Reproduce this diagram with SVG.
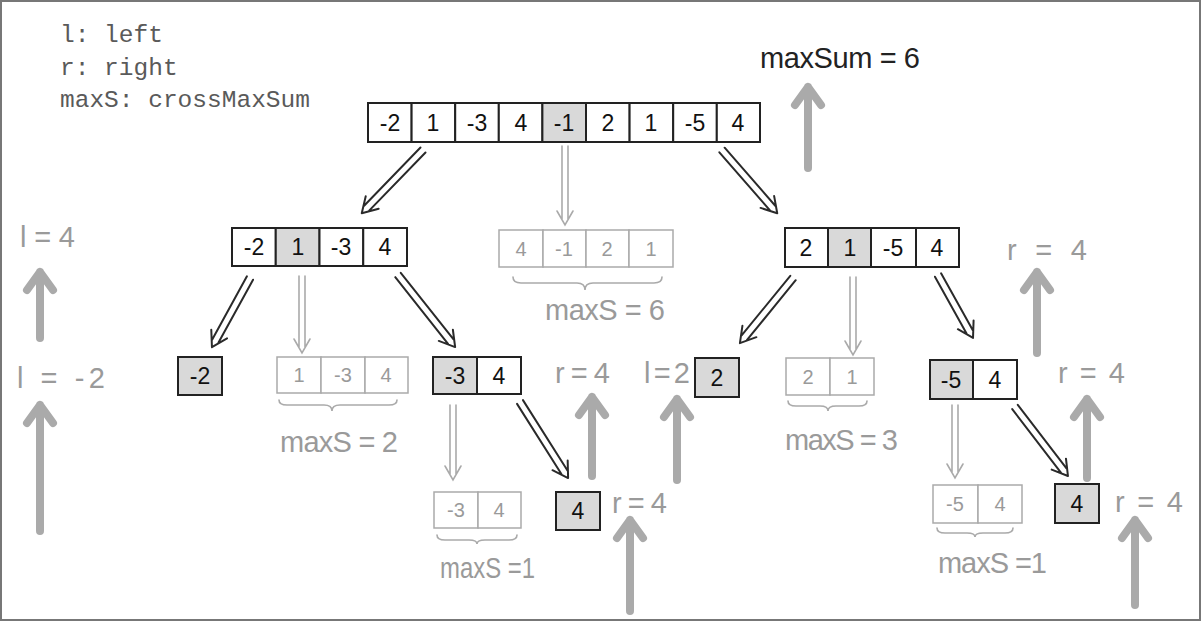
<svg xmlns="http://www.w3.org/2000/svg" width="1203" height="623" viewBox="0 0 1203 623">
<style>
.cell{fill:#fff;stroke:#222;stroke-width:2}
.sh{fill:#d9d9d9}
.gcell{fill:#fff;stroke:#aaa;stroke-width:1.5}
.num{font-family:"Liberation Sans",Arial,sans-serif;font-size:23px;fill:#111;text-anchor:middle}
.gnum{font-family:"Liberation Sans",Arial,sans-serif;font-size:20px;fill:#9a9a9a;text-anchor:middle}
.hand{font-family:"Liberation Sans",Arial,sans-serif;font-size:29px;fill:#9a9a9a}
.dark{fill:#222}
.legend{font-family:"Liberation Mono","Courier New",monospace;font-size:24.5px;fill:#5a5a5a}
.barrow{fill:none;stroke:#2a2a2a;stroke-width:2;stroke-linecap:round;stroke-linejoin:round}
.garrow{fill:none;stroke:#aaa;stroke-width:1.6;stroke-linecap:round}
.up{fill:none;stroke:#aaa;stroke-width:8;stroke-linecap:round;stroke-linejoin:round}
.brace{fill:none;stroke:#aaa;stroke-width:1.6;stroke-linecap:round}
</style>
<rect x="1" y="1" width="1199" height="619" fill="#fff" stroke="#777" stroke-width="2"/>

<g id="legend">
<text class="legend" x="60" y="42">l: left</text>
<text class="legend" x="60" y="75">r: right</text>
<text class="legend" x="60" y="107">maxS: crossMaxSum</text>
</g>

<g id="root">
<rect class="cell" x="368" y="103" width="43.6" height="39"/>
<rect class="cell" x="411.6" y="103" width="43.6" height="39"/>
<rect class="cell" x="455.2" y="103" width="43.6" height="39"/>
<rect class="cell" x="498.8" y="103" width="43.6" height="39"/>
<rect class="cell sh" x="542.4" y="103" width="43.6" height="39"/>
<rect class="cell" x="586" y="103" width="43.6" height="39"/>
<rect class="cell" x="629.6" y="103" width="43.6" height="39"/>
<rect class="cell" x="673.2" y="103" width="43.6" height="39"/>
<rect class="cell" x="716.8" y="103" width="43.2" height="39"/>
<text class="num" x="390" y="131">-2</text>
<text class="num" x="433" y="131">1</text>
<text class="num" x="477" y="131">-3</text>
<text class="num" x="521" y="131">4</text>
<text class="num" x="564" y="131">-1</text>
<text class="num" x="608" y="131">2</text>
<text class="num" x="651" y="131">1</text>
<text class="num" x="695" y="131">-5</text>
<text class="num" x="738" y="131">4</text>
</g>

<g id="maxsum">
<text class="hand dark" x="760" y="68" textLength="160" lengthAdjust="spacing">maxSum = 6</text>
</g>

<g id="left2">
<rect class="cell" x="232" y="228" width="43.75" height="38"/>
<rect class="cell sh" x="275.75" y="228" width="43.75" height="38"/>
<rect class="cell" x="319.5" y="228" width="43.75" height="38"/>
<rect class="cell" x="363.25" y="228" width="43.75" height="38"/>
<text class="num" x="254" y="255">-2</text>
<text class="num" x="298" y="255">1</text>
<text class="num" x="341" y="255">-3</text>
<text class="num" x="385" y="255">4</text>
</g>

<g id="mid2">
<rect class="gcell" x="499" y="230" width="44" height="37"/>
<rect class="gcell" x="543" y="230" width="43" height="37"/>
<rect class="gcell" x="586" y="230" width="43" height="37"/>
<rect class="gcell" x="629" y="230" width="44" height="37"/>
<text class="gnum" x="521" y="256">4</text>
<text class="gnum" x="564" y="256">-1</text>
<text class="gnum" x="607" y="256">2</text>
<text class="gnum" x="651" y="256">1</text>
<path class="brace" d="M513,277 q0,6 8,6 H577 q8,0 8,7 q0,-7 8,-7 H654 q8,0 8,-6"/>
<text class="hand" x="545" y="320" textLength="120" lengthAdjust="spacing">maxS = 6</text>
</g>

<g id="right2">
<rect class="cell" x="785" y="228" width="43" height="39"/>
<rect class="cell sh" x="828" y="228" width="43" height="39"/>
<rect class="cell" x="871" y="228" width="45" height="39"/>
<rect class="cell" x="916" y="228" width="43" height="39"/>
<text class="num" x="806" y="256">2</text>
<text class="num" x="850" y="256">1</text>
<text class="num" x="893" y="256">-5</text>
<text class="num" x="937" y="256">4</text>
</g>

<g id="leaf-m2">
<rect class="cell sh" x="178" y="357" width="44" height="38"/>
<text class="num" x="200" y="384">-2</text>
</g>

<g id="cross-134">
<rect class="gcell" x="277" y="357" width="44" height="36"/>
<rect class="gcell" x="321" y="357" width="44" height="36"/>
<rect class="gcell" x="365" y="357" width="43" height="36"/>
<text class="gnum" x="299" y="382">1</text>
<text class="gnum" x="343" y="382">-3</text>
<text class="gnum" x="386" y="382">4</text>
<path class="brace" d="M279,400 q0,5 8,5 H324 q8,0 8,6 q0,-6 8,-6 H389 q8,0 8,-5"/>
<text class="hand" x="280" y="452" textLength="118" lengthAdjust="spacing">maxS = 2</text>
</g>

<g id="pair-m3-4">
<rect class="cell sh" x="433" y="357" width="44" height="37"/>
<rect class="cell" x="477" y="357" width="44" height="37"/>
<text class="num" x="455" y="384">-3</text>
<text class="num" x="499" y="384">4</text>
</g>

<g id="leaf-2">
<rect class="cell sh" x="695" y="358" width="44" height="39"/>
<text class="num" x="717" y="386">2</text>
</g>

<g id="cross-21">
<rect class="gcell" x="786" y="358" width="44" height="37"/>
<rect class="gcell" x="830" y="358" width="44" height="37"/>
<text class="gnum" x="808" y="384">2</text>
<text class="gnum" x="852" y="384">1</text>
<path class="brace" d="M788,401 q0,5 8,5 H820 q8,0 8,5 q0,-5 8,-5 H859 q8,0 8,-5"/>
<text class="hand" x="785" y="450" textLength="113" lengthAdjust="spacing">maxS = 3</text>
</g>

<g id="pair-m5-4">
<rect class="cell sh" x="930" y="360" width="43" height="39"/>
<rect class="cell" x="973" y="360" width="44" height="39"/>
<text class="num" x="951" y="388">-5</text>
<text class="num" x="995" y="388">4</text>
</g>

<g id="cross-m34">
<rect class="gcell" x="434" y="492" width="44" height="36"/>
<rect class="gcell" x="478" y="492" width="43" height="36"/>
<text class="gnum" x="456" y="517">-3</text>
<text class="gnum" x="499" y="517">4</text>
<path class="brace" d="M437,535 q0,5 8,5 H469 q8,0 8,4 q0,-4 8,-4 H509 q8,0 8,-5"/>
<text class="hand" x="440" y="578" font-size="27" textLength="95" lengthAdjust="spacingAndGlyphs">maxS =1</text>
</g>

<g id="leaf-4a">
<rect class="cell sh" x="556" y="492" width="44" height="38"/>
<text class="num" x="578" y="519">4</text>
</g>

<g id="cross-m54">
<rect class="gcell" x="933" y="485" width="45" height="38"/>
<rect class="gcell" x="978" y="485" width="44" height="38"/>
<text class="gnum" x="955" y="511">-5</text>
<text class="gnum" x="1000" y="511">4</text>
<path class="brace" d="M937,528 q0,5 8,5 H967 q8,0 8,4 q0,-4 8,-4 H1005 q8,0 8,-5"/>
<text class="hand" x="938" y="573" textLength="109" lengthAdjust="spacing">maxS =1</text>
</g>

<g id="leaf-4b">
<rect class="cell sh" x="1055" y="484" width="44" height="39"/>
<text class="num" x="1077" y="512">4</text>
</g>

<g id="labels">
<text class="hand" x="20" y="247" font-size="34" textLength="55" lengthAdjust="spacing">l=4</text>
<text class="hand" x="17" y="388" font-size="33" textLength="88" lengthAdjust="spacing">l = -2</text>
<text class="hand" x="555" y="383" textLength="55" lengthAdjust="spacing">r=4</text>
<text class="hand" x="644" y="383" textLength="46" lengthAdjust="spacing">l=2</text>
<text class="hand" x="1007" y="260" font-size="33" textLength="80" lengthAdjust="spacing">r = 4</text>
<text class="hand" x="1058" y="383" textLength="67" lengthAdjust="spacing">r=4</text>
<text class="hand" x="612" y="513" textLength="55" lengthAdjust="spacing">r=4</text>
<text class="hand" x="1115" y="512" textLength="68" lengthAdjust="spacing">r=4</text>
</g>

<g id="connectors">
<path class="barrow" transform="translate(423,150) rotate(134.1)" d="M0,-3.5 H81 M0,3.5 H81 M73,-9 L88,0 L73,9"/>
<path class="barrow" transform="translate(722,150) rotate(48.9)" d="M0,-3.5 H77 M0,3.5 H77 M69,-9 L84,0 L69,9"/>
<path class="barrow" transform="translate(250,278) rotate(118.8)" d="M0,-3.5 H72 M0,3.5 H72 M64,-9 L79,0 L64,9"/>
<path class="barrow" transform="translate(398,275) rotate(51.6)" d="M0,-3.5 H85 M0,3.5 H85 M77,-9 L92,0 L77,9"/>
<path class="barrow" transform="translate(793,278) rotate(129.2)" d="M0,-3.5 H77 M0,3.5 H77 M69,-9 L84,0 L69,9"/>
<path class="barrow" transform="translate(938,275) rotate(60.9)" d="M0,-3.5 H65 M0,3.5 H65 M57,-9 L72,0 L57,9"/>
<path class="barrow" transform="translate(520,402) rotate(57.7)" d="M0,-3.5 H83 M0,3.5 H83 M75,-9 L90,0 L75,9"/>
<path class="barrow" transform="translate(1015,407) rotate(52.5)" d="M0,-3.5 H80 M0,3.5 H80 M72,-9 L87,0 L72,9"/>

<path class="garrow" transform="translate(565,146) rotate(90)" d="M0,-3 H73 M0,3 H73 M65,-8 L79,0 L65,8"/>
<path class="garrow" transform="translate(302,276) rotate(90)" d="M0,-3 H71 M0,3 H71 M63,-8 L77,0 L63,8"/>
<path class="garrow" transform="translate(853,277) rotate(90)" d="M0,-3 H72 M0,3 H72 M64,-8 L78,0 L64,8"/>
<path class="garrow" transform="translate(453,405) rotate(90)" d="M0,-3 H69 M0,3 H69 M61,-8 L75,0 L61,8"/>
<path class="garrow" transform="translate(955,405) rotate(90)" d="M0,-3 H67 M0,3 H67 M59,-8 L73,0 L59,8"/>

<path class="up" d="M808,168 V87 M795,105 L808,87 L821,105"/>
<path class="up" d="M40,338 V272 M27,290 L40,272 L53,290"/>
<path class="up" d="M40,531 V405 M27,423 L40,405 L53,423"/>
<path class="up" d="M592,476 V397 M579,415 L592,397 L605,415"/>
<path class="up" d="M677,480 V399 M664,417 L677,399 L690,417"/>
<path class="up" d="M630,611 V520 M617,538 L630,520 L643,538"/>
<path class="up" d="M1037,353 V272 M1024,290 L1037,272 L1050,290"/>
<path class="up" d="M1087,478 V399 M1074,417 L1087,399 L1100,417"/>
<path class="up" d="M1135,605 V520 M1122,538 L1135,520 L1148,538"/>
</g>
</svg>
